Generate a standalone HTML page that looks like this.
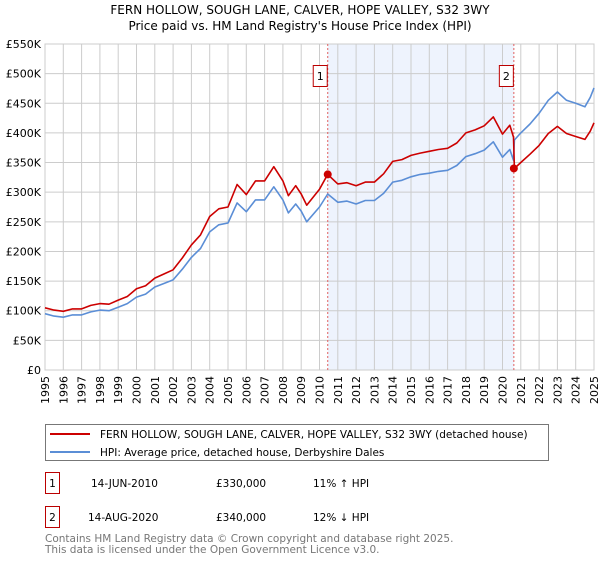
<!DOCTYPE html>
<html><head><meta charset="utf-8"><style>
body{margin:0;background:#fff;font-family:"Liberation Sans","DejaVu Sans",sans-serif;}
svg text{font-family:"DejaVu Sans","Liberation Sans",sans-serif;}
</style></head><body>
<svg id="chart" width="600" height="560" viewBox="0 0 600 560" xmlns="http://www.w3.org/2000/svg">
<text x="300" y="14" text-anchor="middle" font-size="12" fill="#000">FERN HOLLOW, SOUGH LANE, CALVER, HOPE VALLEY, S32 3WY</text>
<text x="300" y="30" text-anchor="middle" font-size="12" fill="#000">Price paid vs. HM Land Registry's House Price Index (HPI)</text>
<g id="grid"></g><g id="marks"></g><g id="axes"></g>
<g>
<rect x="45.5" y="424.5" width="503" height="36" fill="#fff" stroke="#777"/>
<line x1="50" y1="434" x2="90" y2="434" stroke="#cc0000" stroke-width="2"/>
<text x="100" y="438" font-size="10.5">FERN HOLLOW, SOUGH LANE, CALVER, HOPE VALLEY, S32 3WY (detached house)</text>
<line x1="50" y1="452" x2="90" y2="452" stroke="#5b8ed6" stroke-width="2"/>
<text x="100" y="456" font-size="10.5">HPI: Average price, detached house, Derbyshire Dales</text>
</g>
<g font-size="10.5">
<rect x="45.5" y="472.5" width="14" height="21" fill="#fff" stroke="#b00"/>
<text x="52.5" y="487" text-anchor="middle">1</text>
<text x="91" y="487">14-JUN-2010</text><text x="216" y="487">£330,000</text><text x="313" y="487">11% ↑ HPI</text>
<rect x="45.5" y="506.5" width="14" height="21" fill="#fff" stroke="#b00"/>
<text x="52.5" y="521" text-anchor="middle">2</text>
<text x="88" y="521">14-AUG-2020</text><text x="216" y="521">£340,000</text><text x="313" y="521">12% ↓ HPI</text>
</g>
<text x="45" y="542" font-size="10.5" fill="#777">Contains HM Land Registry data © Crown copyright and database right 2025.</text>
<text x="45" y="553" font-size="10.5" fill="#777">This data is licensed under the Open Government Licence v3.0.</text>
</svg>
<script>
const years=[1995,1995.5,1996,1996.5,1997,1997.5,1998,1998.5,1999,1999.5,2000,2000.5,2001,2001.5,2002,2002.5,2003,2003.5,2004,2004.5,2005,2005.5,2006,2006.5,2007,2007.5,2008,2008.3,2008.7,2009,2009.3,2010,2010.45,2011,2011.5,2012,2012.5,2013,2013.5,2014,2014.5,2015,2015.5,2016,2016.5,2017,2017.5,2018,2018.5,2019,2019.5,2020,2020.4,2020.6,2020.65,2021,2021.5,2022,2022.5,2023,2023.5,2024,2024.5,2024.8,2025];
const hpiValues=[95,91,89,93,93,98,101,100,106,112,123,128,140,146,152,170,190,205,233,245,248,282,267,287,287,309,287,265,280,268,250,275,297,283,285,280,286,286,298,317,320,326,330,332,335,337,345,360,365,371,385,359,372,354,388,400,415,433,455,469,455,450,444,460,476];
const propertyValues=[105,101,99,103,103,109,112,111,118,124,137,142,155,162,169,189,211,228,259,272,275,313,296,319,319,343,319,294,311,297,278,305,330,314,316,311,317,317,331,352,355,362,366,369,372,374,383,400,405,412,427,398,413,393,340,350,364,379,399,411,399,394,389,403,417];
const saleYears=[2010.45,2020.62];
const saleValues=[330,340];
const saleLabels=["1","2"];
const yTicks=[0,50,100,150,200,250,300,350,400,450,500,550];
const yTickLabels=["£0","£50K","£100K","£150K","£200K","£250K","£300K","£350K","£400K","£450K","£500K","£550K"];
const xTicks=[1995,1996,1997,1998,1999,2000,2001,2002,2003,2004,2005,2006,2007,2008,2009,2010,2011,2012,2013,2014,2015,2016,2017,2018,2019,2020,2021,2022,2023,2024,2025];

const L=45,R=594,T=44,B=370;
const xs=y=>L+(y-1995)/30*(R-L);
const ys=v=>B-v/550*(B-T);
const NS="http://www.w3.org/2000/svg";
function mk(tag,attrs,parent){const e=document.createElementNS(NS,tag);for(const k in attrs)e.setAttribute(k,attrs[k]);parent.appendChild(e);return e;}
const grid=document.getElementById('grid'),marks=document.getElementById('marks'),axes=document.getElementById('axes');
const shade=mk('rect',{x:xs(saleYears[0]),y:T,width:xs(saleYears[1])-xs(saleYears[0]),height:B-T,fill:'#eef3fd'},grid);


yTicks.forEach((t,i)=>{
 const ln=mk('line',{x1:L,x2:R,y1:ys(t),y2:ys(t),stroke:'#cccccc','stroke-width':1},grid);
 
 
 const tx=mk('text',{x:L-4,y:ys(t)+4,'text-anchor':'end','font-size':11},axes);
 tx.textContent=yTickLabels[i];
 
 
});
xTicks.forEach(t=>{
 const ln=mk('line',{x1:xs(t),x2:xs(t),y1:T,y2:B,stroke:'#cccccc','stroke-width':1},grid);
 
 
 const tx=mk('text',{x:0,y:0,'font-size':11,'text-anchor':'end',transform:`translate(${xs(t)+4},376) rotate(-90)`},axes);
 tx.textContent=t;
 
 
});
const frame=mk('rect',{x:L,y:T,width:R-L,height:B-T,fill:'none',stroke:'#cccccc'},grid);


saleYears.forEach((y,i)=>{
 const ln=mk('line',{x1:xs(y),x2:xs(y),y1:T,y2:B,stroke:'#e06060','stroke-dasharray':'2,2','stroke-width':1},marks);
 
 
});
function path(vals,color,name,w){
 const d=vals.map((v,i)=>(i?'L':'M')+xs(years[i]).toFixed(1)+','+ys(v).toFixed(1)).join('');
 const p=mk('path',{d:d,fill:'none',stroke:color,'stroke-width':w,'stroke-linejoin':'round'},marks);
 
 
}
path(hpiValues,'#5b8ed6','hpi-line',1.6);
path(propertyValues,'#cc0000','property-price-line',1.6);
saleYears.forEach((y,i)=>{
 const c=mk('circle',{cx:xs(y),cy:ys(saleValues[i]),r:4,fill:'#cc0000'},marks);
 
 
 const g=mk('g',{},marks);
 
 
 mk('rect',{x:xs(y)-14.5,y:65.5,width:14,height:21,fill:'#fff',stroke:'#b00'},g);
 const t=mk('text',{x:xs(y)-7.5,y:80,'text-anchor':'middle','font-size':11},g);
 t.textContent=saleLabels[i];
});
</script>
</body></html>
